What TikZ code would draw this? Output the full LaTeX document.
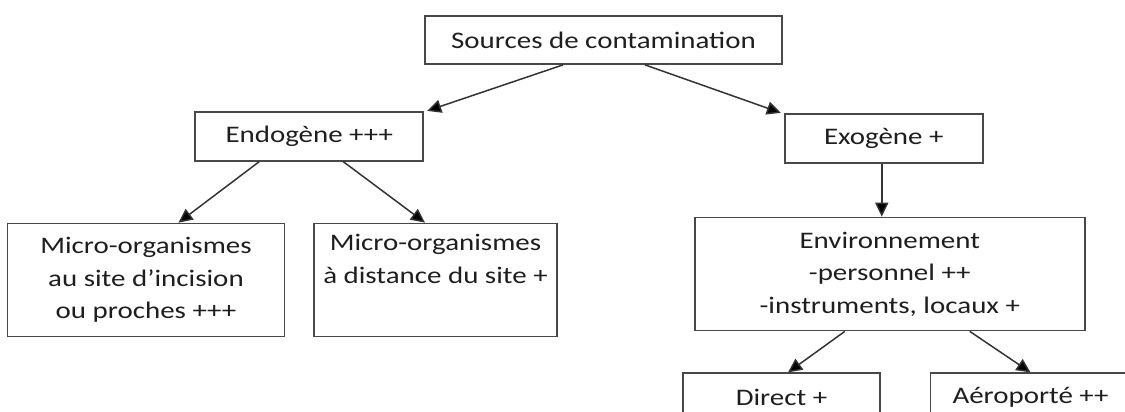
\documentclass[tikz,border=0pt]{standalone}
\usepackage{fontspec}
\setmainfont{Carlito}[FakeStretch=1.22]
\usepackage{xcolor}
\usepackage{tikz}
\usetikzlibrary{arrows.meta, positioning}
\definecolor{boxline}{HTML}{484848}
\definecolor{arrowline}{HTML}{333333}
\definecolor{labeltext}{HTML}{1E1E1E}
\tikzstyle{source} = [rectangle, minimum width=7.14cm, minimum height=0.96cm, text centered, draw=boxline, line width=1pt, text=labeltext]
\tikzstyle{branch} = [rectangle, minimum height=0.98cm, text centered, draw=boxline, line width=1pt, text=labeltext]
\tikzstyle{detail} = [rectangle, minimum height=2.26cm, align=center, draw=boxline, line width=1pt, text=labeltext]
\tikzstyle{arrow} = [draw=arrowline, line width=0.85pt, -{Triangle[length=8pt, width=7.5pt, fill=black]}]
\begin{document}
\begin{tikzpicture}[font=\fontsize{13.5}{18.5}\selectfont]
    \clip (0,0) rectangle (22.5,-8.22);
    % Nodes
    \node (src) [source] at (12.07,-0.8) {Sources de contamination};
    \node (endo) [branch, minimum width=4.56cm, below left=0.92cm and 0cm of src] {Endogène +++};
    \node (exo) [branch, minimum width=3.96cm, below right=0.96cm and 0.02cm of src] {Exogène +};

    \node (micro1) [detail, minimum width=5.54cm, below left=1.22cm and -1.82cm of endo] {Micro-organismes\\au site d’incision\\ou proches +++};
    \node (micro2) [detail, minimum width=4.86cm, below right=1.22cm and -2.22cm of endo] {Micro-organismes\\à distance du site +\\\strut};

    \node (env) [detail, minimum width=7.8cm, below=1.06cm of exo, xshift=0.12cm] {Environnement\\-personnel ++\\-instruments, locaux +};

    \node (direct) [branch, minimum width=3.94cm, below left=0.82cm and -3.74cm of env] {Direct +};
    \node (aero) [branch, minimum width=4.0cm, below right=0.82cm and -3.12cm of env] {Aéroporté ++};

    % Arrows
    \draw [arrow] ([xshift=-0.81cm]src.south) -- ([xshift=0.06cm]endo.north east);
    \draw [arrow] ([xshift=0.83cm]src.south) -- ([xshift=-0.06cm]exo.north west);

    \draw [arrow] ([xshift=-1.0cm]endo.south) -- ([xshift=0.65cm]micro1.north);
    \draw [arrow] ([xshift=0.68cm]endo.south) -- ([xshift=-0.21cm]micro2.north);

    \draw [arrow] ([xshift=-0.04cm]exo.south) -- ([xshift=-0.04cm]exo.south |- env.north);

    \draw [arrow] ([xshift=-0.9cm]env.south) -- ([xshift=0.13cm]direct.north);
    \draw [arrow] ([xshift=1.6cm]env.south) -- (aero.north);
\end{tikzpicture}
\end{document}
